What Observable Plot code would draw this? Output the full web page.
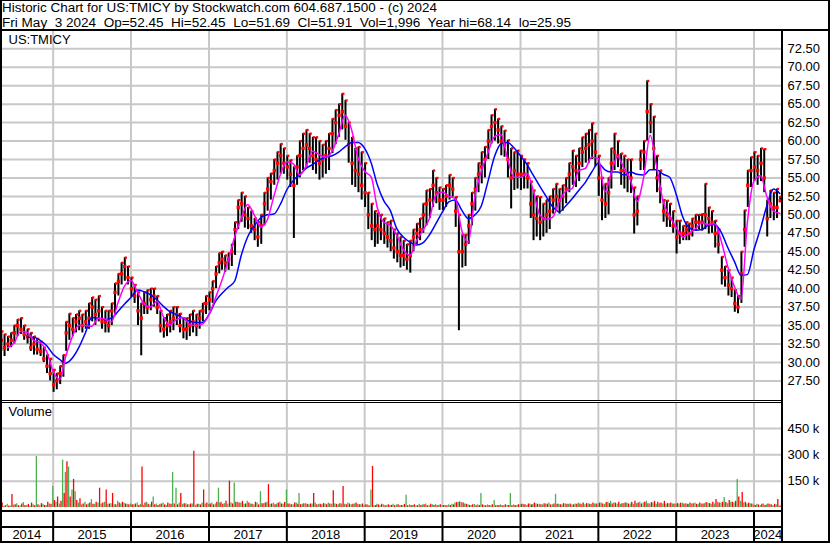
<!DOCTYPE html>
<html><head><meta charset="utf-8">
<script src="https://cdn.jsdelivr.net/npm/d3@7"></script>
<script src="https://cdn.jsdelivr.net/npm/@observablehq/plot@0.6"></script>
<style>
body{margin:0;background:#fff;}
#wrap{position:relative;width:830px;height:543px;overflow:hidden;background:#fff;font-family:"Liberation Sans",Arial,sans-serif;}
.hl{position:absolute;background:#000;}
.hdr{position:absolute;left:2px;font-size:12.5px;line-height:14px;white-space:pre;color:#000;transform-origin:0 0;}
</style>
</head><body>
<div id="wrap"></div>
<script>
// ---- data ----
const title = "Historic Chart for US:TMICY by Stockwatch.com 604.687.1500 - (c) 2024";
const subtitle = "Fri May  3 2024  Op=52.45  Hi=52.45  Lo=51.69  Cl=51.91  Vol=1,996  Year hi=68.14  lo=25.95";
const symbol = "US:TMICY";
const years = ["2014","2015","2016","2017","2018","2019","2020","2021","2022","2023","2024"];
const priceTicks = [27.5,30,32.5,35,37.5,40,42.5,45,47.5,50,52.5,55,57.5,60,62.5,65,67.5,70,72.5];
const volTicks = [150,300,450]; // thousands

// half-month periods starting May 2014: high / low / close
const hi = [
 34.2,33.8,33.5,34,35,35.8,36,35,34.5,34,33.5,33.2,32.8,32,31,30.5,
 29,28.5,29.5,31,35.5,36.6,36,36.5,37,36.5,37,38,38.8,38.5,39,37.5,37,37,38,40.7,42,43.5,44.2,43,
 41.5,40.5,39.5,38,39.5,39.8,40,40,39,37,36,36.5,37,37.5,37.5,36.6,36,36,36.5,37,36.5,37,38,39,
 39.5,41,43,44.8,45,44.5,44.8,46,49,52,53,52.5,51,50.5,49.5,49,50,53,55,55.6,57.5,58.5,59.6,59,
 58,57.4,56.5,58,60,61,61.5,61,60.5,60.5,60,59.5,60,61,63,64.2,65,66.4,65.5,62.5,60.5,59,59.2,58.5,
 57,53,51.5,50.5,50.2,50,49.5,49,49.2,48,47.5,47,46.5,46,46.5,48,48.8,49.5,51.5,53.3,53.5,56,55,53.7,
 53.5,54,55.4,55,52.4,50,47.3,47.3,50,53,55,57,58.5,59.2,61.5,63.5,64.3,63,62,61.4,60.1,59,58.5,58.7,
 58,57.5,57,54.5,53.3,52.5,52.4,51.5,52,52.5,53.5,54.2,53.5,54,55,57,58.7,58,59,60.5,61,61.5,62.4,61,
 58,55,54.2,55,59,61,60,58.3,58,57.5,57.5,53.7,52.5,58.7,60,68.14,65,63.3,58,56,52,51.9,51.5,50.5,
 49.2,49.2,48.5,49,48.8,49.5,50,50,50.1,54.2,51,50.5,49.2,48,44.3,43,42.5,41.5,39.8,39,45,50.6,56,57.8,
 58.5,58,59,58.9,52,53.3,53,53.5,52.45
];
const lo = [
 31.5,30.8,31.5,32,32.5,33.5,33.8,33,32.5,31.5,31,31,30.8,30,28.5,27.5,
 25.95,26.3,27,28,31.5,33,33.5,34,34.3,34,34.5,34.5,35.5,35,35.5,34.5,34,34,35,36.5,39,40.5,41,40.5,
 38.8,38,35,30.9,36.5,36.5,37,37.5,36.5,34,33.3,33.5,34,34.3,35,34,33.2,33,33.5,34,33.5,34.5,35.5,36.5,
 37,38,40,42,42.5,42.2,42.5,43,44.5,48,49,48.2,48,47.5,46.5,45.6,46,48.5,50.5,52,54,54.7,55.5,55.5,
 54.7,53.7,46.8,54,55,56,56.5,57,56,55.5,54.7,55,55.5,56,58.3,59.5,60.5,61.5,60.1,57,54,53.7,53,52,
 51,48,46.5,45.6,46,46.5,46,45.5,45,44,43.5,42.8,43,42.5,42.1,45,46,46.5,47.5,48.5,49.5,51,51.5,50.6,
 50.6,51,52,52.4,48.3,34.3,42.8,43,46,48.5,50.5,53,54.2,55,57.5,59.6,60,59.6,58,57.8,55,50.8,53.3,53.5,
 53.3,53.5,53.5,49.5,46.5,47,46.5,47,47.5,48,50.1,50.5,50.1,50.5,51.5,53,54,53.7,54.5,56.4,57,57,57.5,56.5,
 52.5,49.2,49.5,50,53.5,56,56.4,54,53.5,53,52.9,47.4,48.5,56,56,60,61,56,53,51.5,49,48.3,48.3,47.5,
 44.7,46,46.5,46.5,46.5,47,47.8,48,47.8,48,47.4,47.5,45.5,44.7,40.5,40.2,39,38.8,36.8,36.6,38,45.6,51,53.7,
 54.5,54,54.5,53,47,49.5,49.2,49.5,51.69
];
const cl = [
 33,32,32.5,33,34,35,34.5,33.8,33.5,32,32.5,31.8,31.5,30.5,29.5,28.5,
 27,27.5,28.5,30,34,35,34.5,35.5,36,35,35.5,36,37.5,36.5,37,35.5,35.5,35,37,39.5,41,42,43,41.5,
 40,39,37,36,38,37.5,38.5,39,37.5,35,34.5,35,35.5,36,36.5,35,34.5,34.5,35,35.5,35,36,37,38,
 38.5,40,42,43.5,44,43.5,44,45,48,51,51.5,50,49.5,48.5,48,47,48.5,51.5,53.5,54.5,56,57,58,57,
 56.5,55.5,54,56.5,58,59,59.5,59,58,57.5,57,57.5,58,59,61,62.5,63.5,64,62,59.5,57,56,55.5,54,
 53,50,48.5,48,48.5,48,47.5,47,46.5,45.5,45,44.5,44.5,44,44.5,47,47.5,48,50,51.5,52,54,53,52,
 52,52.5,54,53.5,50.5,45,45,46,48.5,51.5,53.5,55.5,56.5,57.5,60,62,62.5,61.5,60,59.5,57.5,55,56,55.5,
 55.5,55.5,55,51.5,50,49.5,49,49.5,50,50.5,52,52.5,52,52.5,53.5,55.5,56.5,56,57,58.5,59,59.5,60,58.5,
 55,52,51.5,53,57,58.5,58,56,56,55.5,55,50,50.5,57.5,58.5,64,62.5,59,55,53.5,50.5,50,49.5,48.5,
 47,47.5,47.5,48,47.5,48.5,49,49,49,50,49.5,49,47.5,46,42.5,41.5,40.5,40,38,37.5,42,48,54,56,
 56.5,56,57,55,49.5,51.5,51,51,51.91
];
// volume in thousands, up-day (green) and down-day (red) per half-month
const volUp = [
 12,6,18,8,14,22,10,28,12,8,15,290,10,18,12,20,
 120,30,20,270,200,230,100,90,25,15,30,20,45,18,25,20,30,18,22,15,35,20,25,18,
 20,15,25,18,12,30,15,60,20,18,25,12,20,200,110,25,18,22,15,20,12,18,25,20,
 18,25,20,110,30,22,18,25,140,30,25,18,35,20,15,25,90,22,30,18,25,20,30,18,
 100,20,15,25,80,18,22,15,20,25,18,15,20,25,18,22,15,20,18,25,15,20,18,15,
 12,15,100,10,18,12,15,10,12,18,15,10,12,70,15,12,10,18,15,20,12,15,18,12,
 10,12,15,18,25,30,28,20,15,12,18,15,80,12,15,10,40,12,15,10,12,80,15,10,
 15,18,12,20,15,22,18,15,20,25,15,75,18,15,20,18,15,20,25,18,15,22,18,20,
 20,25,18,30,35,25,20,18,22,25,20,18,22,30,25,35,20,25,18,22,20,18,22,20,
 18,20,25,22,18,20,25,18,20,22,25,18,20,30,25,57,22,30,25,160,35,25,20,22,
 15,18,12,20,15,18,12,15,8
];
const volDown = [
 25,10,8,74,15,10,20,12,18,25,10,15,22,12,30,18,
 40,60,35,80,260,60,160,40,50,20,15,25,18,30,110,25,100,20,80,15,25,30,20,15,
 15,20,12,230,25,18,30,15,12,20,15,25,18,20,15,80,22,15,20,320,18,15,100,25,
 20,15,30,25,18,35,150,20,30,25,35,20,25,18,30,15,22,25,130,20,15,25,20,28,
 20,15,25,18,15,22,18,20,80,15,18,22,15,20,95,18,22,120,15,20,18,25,15,20,
 15,10,234,12,15,18,10,15,12,10,15,12,18,10,12,15,10,12,15,10,18,12,10,15,
 12,10,12,15,28,32,25,18,12,15,10,12,15,10,12,15,10,12,10,15,12,10,12,15,
 18,15,20,15,25,18,15,22,18,15,20,18,15,22,18,20,15,18,20,25,22,18,25,20,
 25,20,28,22,20,25,30,22,25,20,30,35,25,20,30,22,28,35,30,25,35,22,25,20,
 22,25,20,18,25,22,18,25,20,28,22,30,45,25,30,28,40,30,35,60,85,30,25,20,
 12,15,18,12,20,15,18,45,10
];
// moving averages, monthly readings (first of month)
const maFastStart = [2014, 5]; // June 2014 (month index 5)
const maFast = [
 32.0,32.6,34.2,34.1,33.0,32.7,31.5,
 28.8,27.7,30.8,33.5,35.0,35.0,34.9,36.0,35.9,35.5,38.1,40.3,
 41.1,39.5,38.0,37.5,38.3,36.2,35.1,35.8,36.1,35.2,35.0,35.2,
 36.5,38.8,41.0,43.8,47.0,49.5,51.4,50.0,48.4,49.3,52.5,55.4,
 57.2,56.9,55.4,56.6,58.6,58.2,57.8,58.6,60.9,63.5,61.5,57.7,
 55.9,55.1,51.0,49.0,48.6,47.2,45.3,44.5,46.5,47.9,49.5,52.7,
 53.1,52.5,52.2,47.8,46.3,52.5,55.9,58.4,60.6,60.9,57.6,55.1,
 55.1,55.6,53.4,50.0,49.4,49.7,51.8,53.2,53.6,56.0,56.3,57.8,
 57.6,53.1,55.5,57.9,56.3,54.7,51.8,55.0,60.8,56.6,51.8,49.9,
 48.3,47.0,47.5,48.1,48.9,48.7,48.8,46.4,42.9,40.3,38.5,49.0,
 54.6,55.3,52.5,50.5,50.2
];
const maSlowStart = [2014, 8]; // September 2014
const maSlow = [
 33.4,33.4,33.0,32.3,
 31.1,30.4,29.9,30.6,32.0,34.0,36.1,36.0,35.8,36.0,36.9,37.9,
 38.8,39.8,39.6,39.2,38.5,37.6,36.9,36.5,36.0,35.6,35.4,35.4,
 36.5,38.3,39.3,40.2,41.0,44.5,47.0,48.5,49.6,50.0,50.1,51.4,
 53.4,54.7,55.4,56.3,56.8,57.4,57.8,58.0,58.5,59.2,59.8,59.8,
 59.0,57.0,54.1,51.9,50.6,48.1,47.0,46.3,45.9,46.2,47.3,48.8,
 50.4,51.8,52.0,50.6,49.5,50.0,51.2,54.5,57.9,59.6,59.8,59.1,
 58.0,56.8,55.4,53.9,52.5,51.1,50.4,51.2,52.2,53.3,54.4,55.8,
 57.0,56.1,55.8,55.8,55.4,55.8,55.5,55.4,56.1,56.1,55.5,55.1,
 52.8,49.7,48.3,47.9,48.0,48.6,48.7,47.6,45.5,43.7,41.8,41.9,
 45.3,48.2,51.2,53.5,52.9
];

// ---- build tables ----
const bars = hi.map((h, i) => ({
  date: new Date(Date.UTC(2014, 4 + Math.floor(i / 2), i % 2 ? 18 : 3)),
  hi: h, lo: lo[i], cl: cl[i], up: volUp[i], dn: volDown[i]
}));
const monthly = (start, vals) => vals.map((v, i) => ({date: new Date(Date.UTC(start[0], start[1] + i, 1)), v}));
const fastData = monthly(maFastStart, maFast);
const slowData = monthly(maSlowStart, maSlow);

const dom = [new Date(Date.UTC(2014, 3, 29)), new Date(Date.UTC(2024, 4, 9))];
const yearStarts = years.slice(1).map(y => new Date(Date.UTC(+y, 0, 1)));
const yearLabels = years.map(y => {
  const s = Math.max(Date.UTC(+y, 0, 1), +dom[0]);
  const e = Math.min(Date.UTC(+y + 1, 0, 1), +dom[1]);
  return {label: y, date: new Date((s + e) / 2)};
});

const FONT = "'Liberation Sans', Arial, sans-serif";
const baseStyle = {fontFamily: FONT, fontSize: "13px", background: "transparent", overflow: "visible", color: "#000"};
const GRID = "#c8c8c8";
const W = 830, MR = 49;

const wrap = document.getElementById("wrap");
function place(el, left, top) { el.style.position = "absolute"; el.style.left = left + "px"; el.style.top = top + "px"; wrap.appendChild(el); }
function hline(x, y, w, h) { const d = document.createElement("div"); d.className = "hl"; Object.assign(d.style, {left: x + "px", top: y + "px", width: w + "px", height: h + "px"}); wrap.appendChild(d); }

// header (two lines, each fitted to the reference's text extent)
function headerLine(text, top, targetWidth) {
  const d = document.createElement("div");
  d.className = "hdr"; d.style.top = top + "px"; d.textContent = text;
  wrap.appendChild(d);
  const w = d.getBoundingClientRect().width;
  if (w > 0) d.style.transform = "scaleX(" + (targetWidth / w) + ")";
}
headerLine(title, 1, 435);
headerLine(subtitle, 15.5, 569);

// price panel
const price = Plot.plot({
  width: W, height: 370, marginLeft: 0, marginRight: MR, marginTop: 0, marginBottom: 0,
  style: baseStyle,
  x: {type: "utc", domain: dom, axis: null},
  y: {domain: [24.71, 74.84]},
  marks: [
    Plot.ruleY(priceTicks, {stroke: GRID, strokeWidth: 2}),
    Plot.ruleX(yearStarts, {stroke: GRID, strokeWidth: 2}),
    Plot.ruleX(bars, {x: "date", y1: "lo", y2: "hi", stroke: "#000", strokeWidth: 2}),
    Plot.dot(bars, {x: "date", y: "cl", symbol: "square", r: 1.9, fill: "#ff0000", stroke: null}),
    Plot.dot(bars, {x: "date", y: "hi", symbol: "square", r: 1.3, fill: "#ff0000", stroke: null, dx: 1}),
    Plot.line(slowData, {x: "date", y: "v", stroke: "#0000ff", strokeWidth: 1.5, curve: "monotone-x"}),
    Plot.line(fastData, {x: "date", y: "v", stroke: "#ff00ff", strokeWidth: 1.5, curve: "monotone-x"}),
    Plot.axisY({anchor: "right", ticks: priceTicks, tickSize: 0, tickPadding: 6, tickFormat: d => d.toFixed(2), fontSize: 13}),
    Plot.text([symbol], {frameAnchor: "top-left", dx: 8, dy: 3, text: d => d, fontSize: 13, fill: "#000"})
  ]
});
place(price, 0, 31);

// volume panel
const vol = Plot.plot({
  width: W, height: 108, marginLeft: 0, marginRight: MR, marginTop: 0, marginBottom: 3,
  style: baseStyle,
  x: {type: "utc", domain: dom, axis: null},
  y: {domain: [0, 598]},
  marks: [
    Plot.ruleY(volTicks, {stroke: GRID, strokeWidth: 2}),
    Plot.ruleX(yearStarts, {stroke: GRID, strokeWidth: 2}),
    Plot.ruleX(bars, {x: "date", y: "up", stroke: "#4caf50", strokeWidth: 1.3, dx: -0.8}),
    Plot.ruleX(bars, {x: "date", y: "dn", stroke: "#ff0000", strokeWidth: 1.3, dx: 0.8}),
    Plot.axisY({anchor: "right", ticks: volTicks, tickSize: 0, tickPadding: 6, tickFormat: d => d + " k", fontSize: 13}),
    Plot.text(["Volume"], {frameAnchor: "top-left", dx: 8, dy: 4, text: d => d, fontSize: 13, fill: "#000"})
  ]
});
place(vol, 0, 402);

// year band
const band = Plot.plot({
  width: W, height: 31, marginLeft: 0, marginRight: MR, marginTop: 0, marginBottom: 0,
  style: baseStyle,
  x: {type: "utc", domain: dom, axis: null},
  y: {domain: [0, 31], range: [0, 31], axis: null},
  marks: [
    Plot.ruleX(yearStarts, {y1: 0, y2: 31, stroke: "#000", strokeWidth: 2}),
    Plot.text(yearLabels, {x: "date", y: 23, text: "label", fontSize: 13, fill: "#000"})
  ]
});
place(band, 0, 511);

// frame
hline(0, 0, 830, 1);
hline(0, 29, 830, 2);
hline(0, 0, 2, 543);
hline(828, 0, 2, 543);
hline(781, 31, 2, 512);
hline(0, 400, 782, 1);
hline(0, 402, 782, 1);
hline(0, 510, 782, 2);
hline(0, 526, 782, 2);
hline(0, 541, 830, 2);
</script>
</body></html>
